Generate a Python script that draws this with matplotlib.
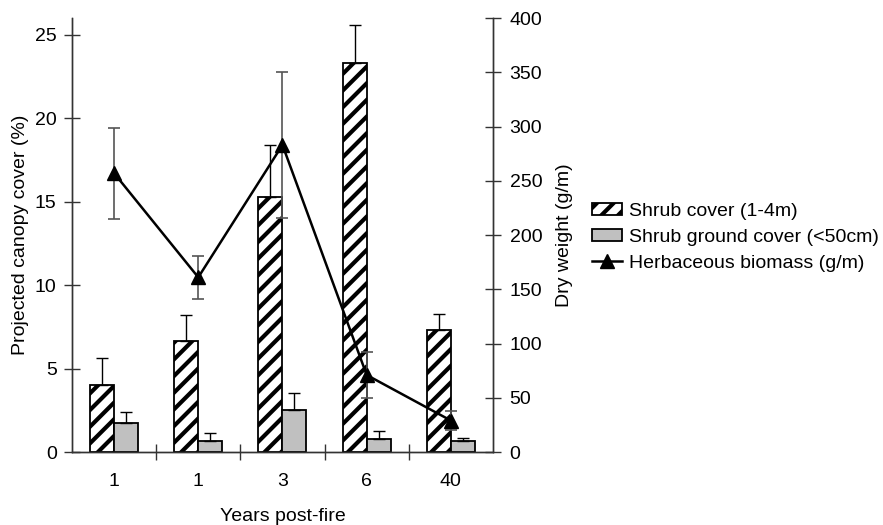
import numpy as np
import matplotlib.pyplot as plt

plt.rcParams['font.family'] = ['Liberation Sans', 'DejaVu Sans']
plt.rcParams['hatch.linewidth'] = 3.0

# data
years = ['1', '1', '3', '6', '40']
shrub_cover = [4.0, 6.67, 15.27, 23.28, 7.3]
shrub_cover_err = [1.65, 1.53, 3.13, 2.32, 0.97]
ground_cover = [1.76, 0.68, 2.52, 0.76, 0.64]
ground_cover_err = [0.62, 0.44, 1.04, 0.48, 0.22]
herb_biomass = [257, 161, 283, 71, 29]
herb_biomass_err = [42, 20, 67, 21, 9]

x = np.arange(len(years))
w = 0.285
fs = 14

fig = plt.figure(figsize=(8.83, 5.25), dpi=100)
ax = fig.add_axes([0.0815, 0.139, 0.4768, 0.8267])
ax2 = ax.twinx()

b1 = ax.bar(x - w / 2, shrub_cover, w, color='white', edgecolor='black',
            hatch='//', linewidth=1.3, label='Shrub cover (1-4m)', zorder=2)
ax.errorbar(x - w / 2, shrub_cover, yerr=[np.zeros(5), shrub_cover_err],
            fmt='none', ecolor='black', elinewidth=1.0, capsize=4, capthick=1.0, zorder=3)
b2 = ax.bar(x + w / 2, ground_cover, w, color='#c0c0c0', edgecolor='black',
            linewidth=1.3, label='Shrub ground cover (<50cm)', zorder=2)
ax.errorbar(x + w / 2, ground_cover, yerr=[np.zeros(5), ground_cover_err],
            fmt='none', ecolor='black', elinewidth=1.0, capsize=4, capthick=1.0, zorder=3)

ax2.errorbar(x, herb_biomass, yerr=herb_biomass_err, fmt='none', ecolor='#555555',
             elinewidth=1.2, capsize=4, capthick=1.2, zorder=3)
ln, = ax2.plot(x, herb_biomass, color='black', lw=1.8, marker='^', ms=10,
               label='Herbaceous biomass (g/m)', zorder=4)

ax.set_xlim(-0.5, 4.5)
ax.set_ylim(0, 26)
ax2.set_ylim(0, 400)
ax.set_yticks([0, 5, 10, 15, 20, 25])
ax2.set_yticks(range(0, 401, 50))
ax.set_xticks(x)
ax.set_xticklabels(years)
ax.set_xticks(x[:-1] + 0.5, minor=True)
ax.tick_params(axis='x', which='major', length=0, pad=15, labelsize=fs)
ax.tick_params(axis='x', which='minor', direction='inout', length=12, width=1.0, color='#333333')
ax.tick_params(axis='y', direction='inout', length=12, width=1.0, color='#333333', labelsize=fs, pad=5)
ax2.tick_params(axis='y', direction='inout', length=12, width=1.0, color='#333333', labelsize=fs, pad=6)

for a in (ax, ax2):
    a.spines['top'].set_visible(False)
    for s in ('left', 'right', 'bottom'):
        a.spines[s].set_color('#333333')
        a.spines[s].set_linewidth(1.0)

ax.set_ylabel('Projected canopy cover (%)', fontsize=fs, labelpad=4)
ax2.set_ylabel('Dry weight (g/m)', fontsize=fs, labelpad=10)
ax.set_xlabel('Years post-fire', fontsize=fs, labelpad=13)

ax.set_zorder(ax2.get_zorder() - 1)
ax.patch.set_visible(False)
ax2.patch.set_visible(False)

fig.legend([b1, b2, ln], [b1.get_label(), b2.get_label(), ln.get_label()],
           loc='center left', bbox_to_anchor=(0.662, 0.548), frameon=False,
           fontsize=fs, handlelength=1.55, handleheight=0.55, handletextpad=0.35,
           labelspacing=0.45, borderaxespad=0)

fig.savefig('out.png', dpi=100)
